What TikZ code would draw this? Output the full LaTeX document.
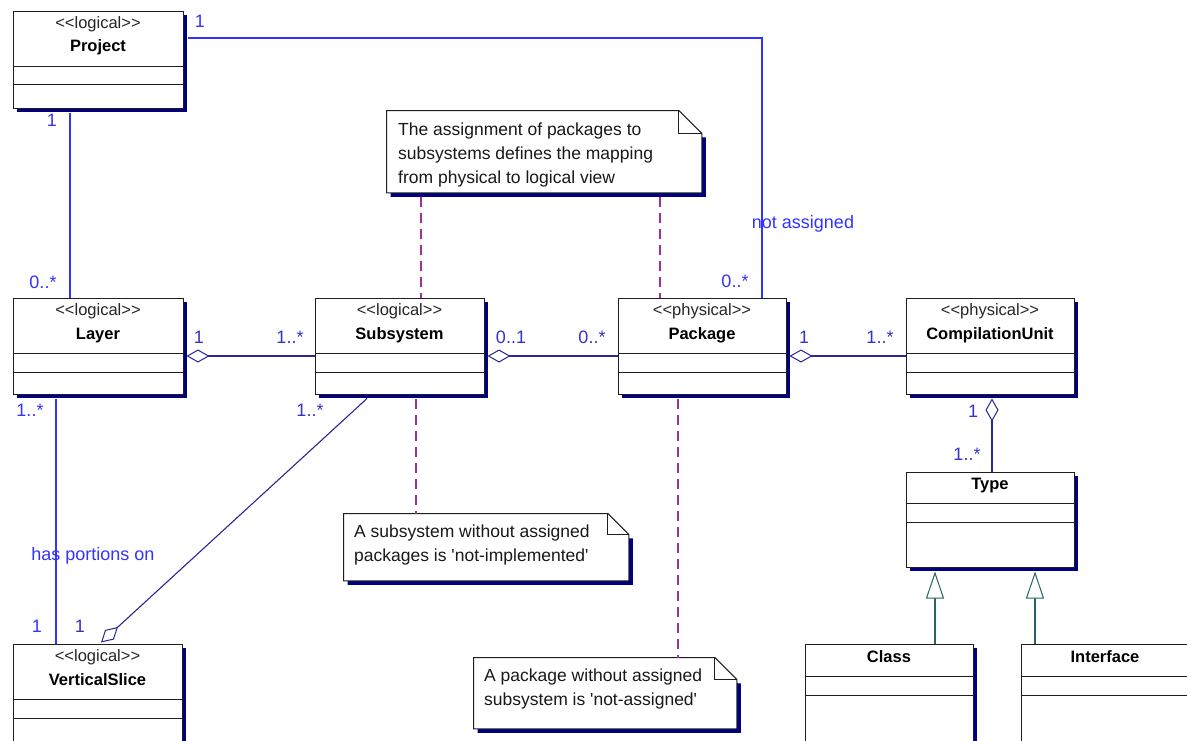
\documentclass[tikz,border=0pt]{standalone}
\usepackage{fontspec}
\newfontfamily\umlfont{Liberation Sans}
\usetikzlibrary{arrows.meta,shadows,calc}
\definecolor{shadowblue}{RGB}{0,0,128}
\definecolor{boxline}{RGB}{30,30,30}
\definecolor{brightblue}{RGB}{51,51,255}
\definecolor{aggblue}{RGB}{40,40,150}
\definecolor{agglabel}{RGB}{51,51,204}
\definecolor{notepurple}{RGB}{153,51,153}
\definecolor{genteal}{RGB}{40,100,100}
\tikzset{
  umlclass/.style={draw=boxline, fill=white, line width=1pt, inner sep=0pt, anchor=north west,
    drop shadow={shadow xshift=4pt, shadow yshift=-4pt, fill=shadowblue, opacity=1}},
  divider/.style={draw=boxline, line width=1pt},
  stereo/.style={font=\umlfont\fontsize{16.5}{18}\selectfont, text=black!85, anchor=base, inner sep=0pt},
  cname/.style={font=\umlfont\bfseries\fontsize{16.5}{18}\selectfont, text=black, anchor=base, inner sep=0pt},
  notearea/.style={draw=none, fill=none, inner sep=0pt, anchor=north west},
  noteline/.style={draw=boxline, line width=1pt},
  notetext/.style={font=\umlfont\fontsize{17.5}{20}\selectfont, text=black!90, anchor=base west, inner sep=0pt},
  lbl/.style={font=\umlfont\fontsize{18}{20}\selectfont, anchor=base, inner sep=0pt},
  brightlbl/.style={lbl, text=brightblue},
  agglbl/.style={lbl, text=agglabel},
  plainlink/.style={draw=brightblue, line width=1.1pt},
  agglink/.style={draw=aggblue, line width=1.1pt, {Diamond[fill=white, length=23pt, width=13pt, line width=1pt]}-},
  notelink/.style={draw=notepurple, line width=1.1pt, dash pattern=on 10pt off 6pt},
  genlink/.style={draw=genteal, line width=1.1pt, -{Triangle[open, fill=white, length=27pt, width=18pt, line width=1pt]}},
}
\newcommand\dogear[2]{%
  \fill[shadowblue] ([xshift=4pt,yshift=-4pt]#1.north west) -- ([xshift=4pt,yshift=-4pt]#1.south west)
    -- ([xshift=4pt,yshift=-4pt]#1.south east) -- ([xshift=4pt,yshift=-#2pt-4pt]#1.north east) -- cycle;
  \draw[noteline, fill=white] (#1.north west) -- ([xshift=-#2pt]#1.north east) -- ([yshift=-#2pt]#1.north east)
    -- (#1.south east) -- (#1.south west) -- cycle;
  \draw[noteline] ([xshift=-#2pt]#1.north east) -- ([xshift=-#2pt,yshift=-#2pt]#1.north east) -- ([yshift=-#2pt]#1.north east);
}
\newcommand\dividers[3]{%
  \draw[divider] ([yshift=-#2pt]#1.north west) -- ([yshift=-#2pt]#1.north east);
  \draw[divider] ([yshift=-#3pt]#1.north west) -- ([yshift=-#3pt]#1.north east);
}
\begin{document}
\begin{tikzpicture}[x=1pt,y=-1pt]
\useasboundingbox[fill=white] (0,0) rectangle (1187,740);

% ---------- classes ----------
\node[umlclass, minimum width=170pt, minimum height=97pt] (project) at (12.5,10.5) {};
\dividers{project}{56}{74}
\node[stereo] (projectS) at ($(project.north)+(0,18)$) {<{}<logical>{}>};
\node[cname] (projectN) at ($(project.north)+(0,41)$) {Project};

\node[umlclass, minimum width=170pt, minimum height=96pt] (layer) at (12.5,297.5) {};
\dividers{layer}{56}{75}
\node[stereo] (layerS) at ($(layer.north)+(0,18)$) {<{}<logical>{}>};
\node[cname] (layerN) at ($(layer.north)+(0,42)$) {Layer};

\node[umlclass, minimum width=169pt, minimum height=96pt] (subsystem) at (314.5,297.5) {};
\dividers{subsystem}{56}{75}
\node[stereo] (subsystemS) at ($(subsystem.north)+(0,18)$) {<{}<logical>{}>};
\node[cname] (subsystemN) at ($(subsystem.north)+(0,42)$) {Subsystem};

\node[umlclass, minimum width=168pt, minimum height=96pt] (package) at (617.5,297.5) {};
\dividers{package}{56}{75}
\node[stereo] (packageS) at ($(package.north)+(0,18)$) {<{}<physical>{}>};
\node[cname] (packageN) at ($(package.north)+(0,42)$) {Package};

\node[umlclass, minimum width=168pt, minimum height=96pt] (cu) at (905.5,297.5) {};
\dividers{cu}{56}{75}
\node[stereo] (cuS) at ($(cu.north)+(0,18)$) {<{}<physical>{}>};
\node[cname] (cuN) at ($(cu.north)+(0,42)$) {CompilationUnit};

\node[umlclass, minimum width=168pt, minimum height=95pt] (type) at (905.5,471.5) {};
\dividers{type}{32}{51}
\node[cname] (typeN) at ($(type.north)+(0,18)$) {Type};

\node[umlclass, minimum width=168pt, minimum height=110pt] (class) at (804.5,643.5) {};
\dividers{class}{33}{52}
\node[cname] (classN) at ($(class.north)+(0,19)$) {Class};

\node[umlclass, minimum width=168pt, minimum height=110pt] (interface) at (1020.5,643.5) {};
\dividers{interface}{33}{52}
\node[cname] (interfaceN) at ($(interface.north)+(0,19)$) {Interface};

\node[umlclass, minimum width=169pt, minimum height=110pt] (vslice) at (12.5,643.5) {};
\dividers{vslice}{56}{75}
\node[stereo] (vsliceS) at ($(vslice.north)+(0,18)$) {<{}<logical>{}>};
\node[cname] (vsliceN) at ($(vslice.north)+(0,42)$) {VerticalSlice};

% ---------- notes ----------
\node[notearea, minimum width=315pt, minimum height=82pt] (note1) at (386.5,110.5) {};
\dogear{note1}{23}
\node[notetext] (note1a) at (398,135) {The assignment of packages to};
\node[notetext] (note1b) at (398,159) {subsystems defines the mapping};
\node[notetext] (note1c) at (398,183) {from physical to logical view};

\node[notearea, minimum width=285pt, minimum height=67pt] (note2) at (343.5,513.5) {};
\dogear{note2}{21}
\node[notetext] (note2a) at (354,537) {A subsystem without assigned};
\node[notetext] (note2b) at (354,561) {packages is 'not-implemented'};

\node[notearea, minimum width=263pt, minimum height=71pt] (note3) at (473.5,657.5) {};
\dogear{note3}{22}
\node[notetext] (note3a) at (484,681) {A package without assigned};
\node[notetext] (note3b) at (484,705) {subsystem is 'not-assigned'};

% ---------- connectors ----------
\draw[plainlink] ($(project.east)+(4,-21.5)$) -| ($(package.north)+(60,0)$);
\draw[plainlink] ($(project.south)+(-28,4)$) -- ($(layer.north)+(-28,0)$);
\draw[plainlink] ($(layer.south)+(-42,4)$) -- ($(vslice.north)+(-41.5,0)$);
\draw[agglink] ($(layer.east)+(3,10)$) -- ($(subsystem.west)+(0,10)$);
\draw[agglink] ($(subsystem.east)+(3,10)$) -- ($(package.west)+(0,10)$);
\draw[agglink] ($(package.east)+(3,10)$) -- ($(cu.west)+(0,10)$);
\draw[agglink] ($(cu.south)+(2,4)$) -- ($(type.north)+(2,0)$);
\draw[agglink] ($(vslice.north)+(3.5,-1)$) -- ($(subsystem.south)+(-32.5,4)$);
\draw[genlink] ($(class.north)+(46,0)$) -- ($(class.north |- type.south)+(46,4)$);
\draw[genlink] ($(interface.north)+(-70,0)$) -- ($(interface.north |- type.south)+(-70,4)$);
\draw[notelink] ($(subsystem.north |- note1.south)+(21.5,4)$) -- ($(subsystem.north)+(21.5,0)$);
\draw[notelink] ($(package.north |- note1.south)+(-42,4)$) -- ($(package.north)+(-42,0)$);
\draw[notelink] ($(subsystem.south)+(16.5,4)$) -- ($(subsystem.south |- note2.north)+(16.5,0)$);
\draw[notelink] ($(package.south)+(-24,4)$) -- ($(package.south |- note3.north)+(-24,0)$);

% ---------- labels ----------
\node[brightlbl] (lpp1) at (200,27) {1};
\node[brightlbl] (lpl1) at (52,126) {1};
\node[brightlbl] (lpl2) at (43,288) {0..*};
\node[brightlbl] (lpp2) at (735,287) {0..*};
\node[brightlbl] (lpp3) at (803,228) {not assigned};
\node[agglbl] (lls1) at (199,343) {1};
\node[agglbl] (lls2) at (290,343) {1..*};
\node[agglbl] (lsp1) at (511,343) {0..1};
\node[agglbl] (lsp2) at (592,343) {0..*};
\node[agglbl] (lpc1) at (804,343) {1};
\node[agglbl] (lpc2) at (880,343) {1..*};
\node[agglbl] (lct1) at (973,417) {1};
\node[agglbl] (lct2) at (967,460) {1..*};
\node[brightlbl] (llv1) at (30,416) {1..*};
\node[agglbl] (lsv1) at (310,416) {1..*};
\node[brightlbl] (llv3) at (93,560) {has portions on};
\node[brightlbl] (llv2) at (37,632) {1};
\node[agglbl] (lsv2) at (80,632) {1};
\end{tikzpicture}
\end{document}
